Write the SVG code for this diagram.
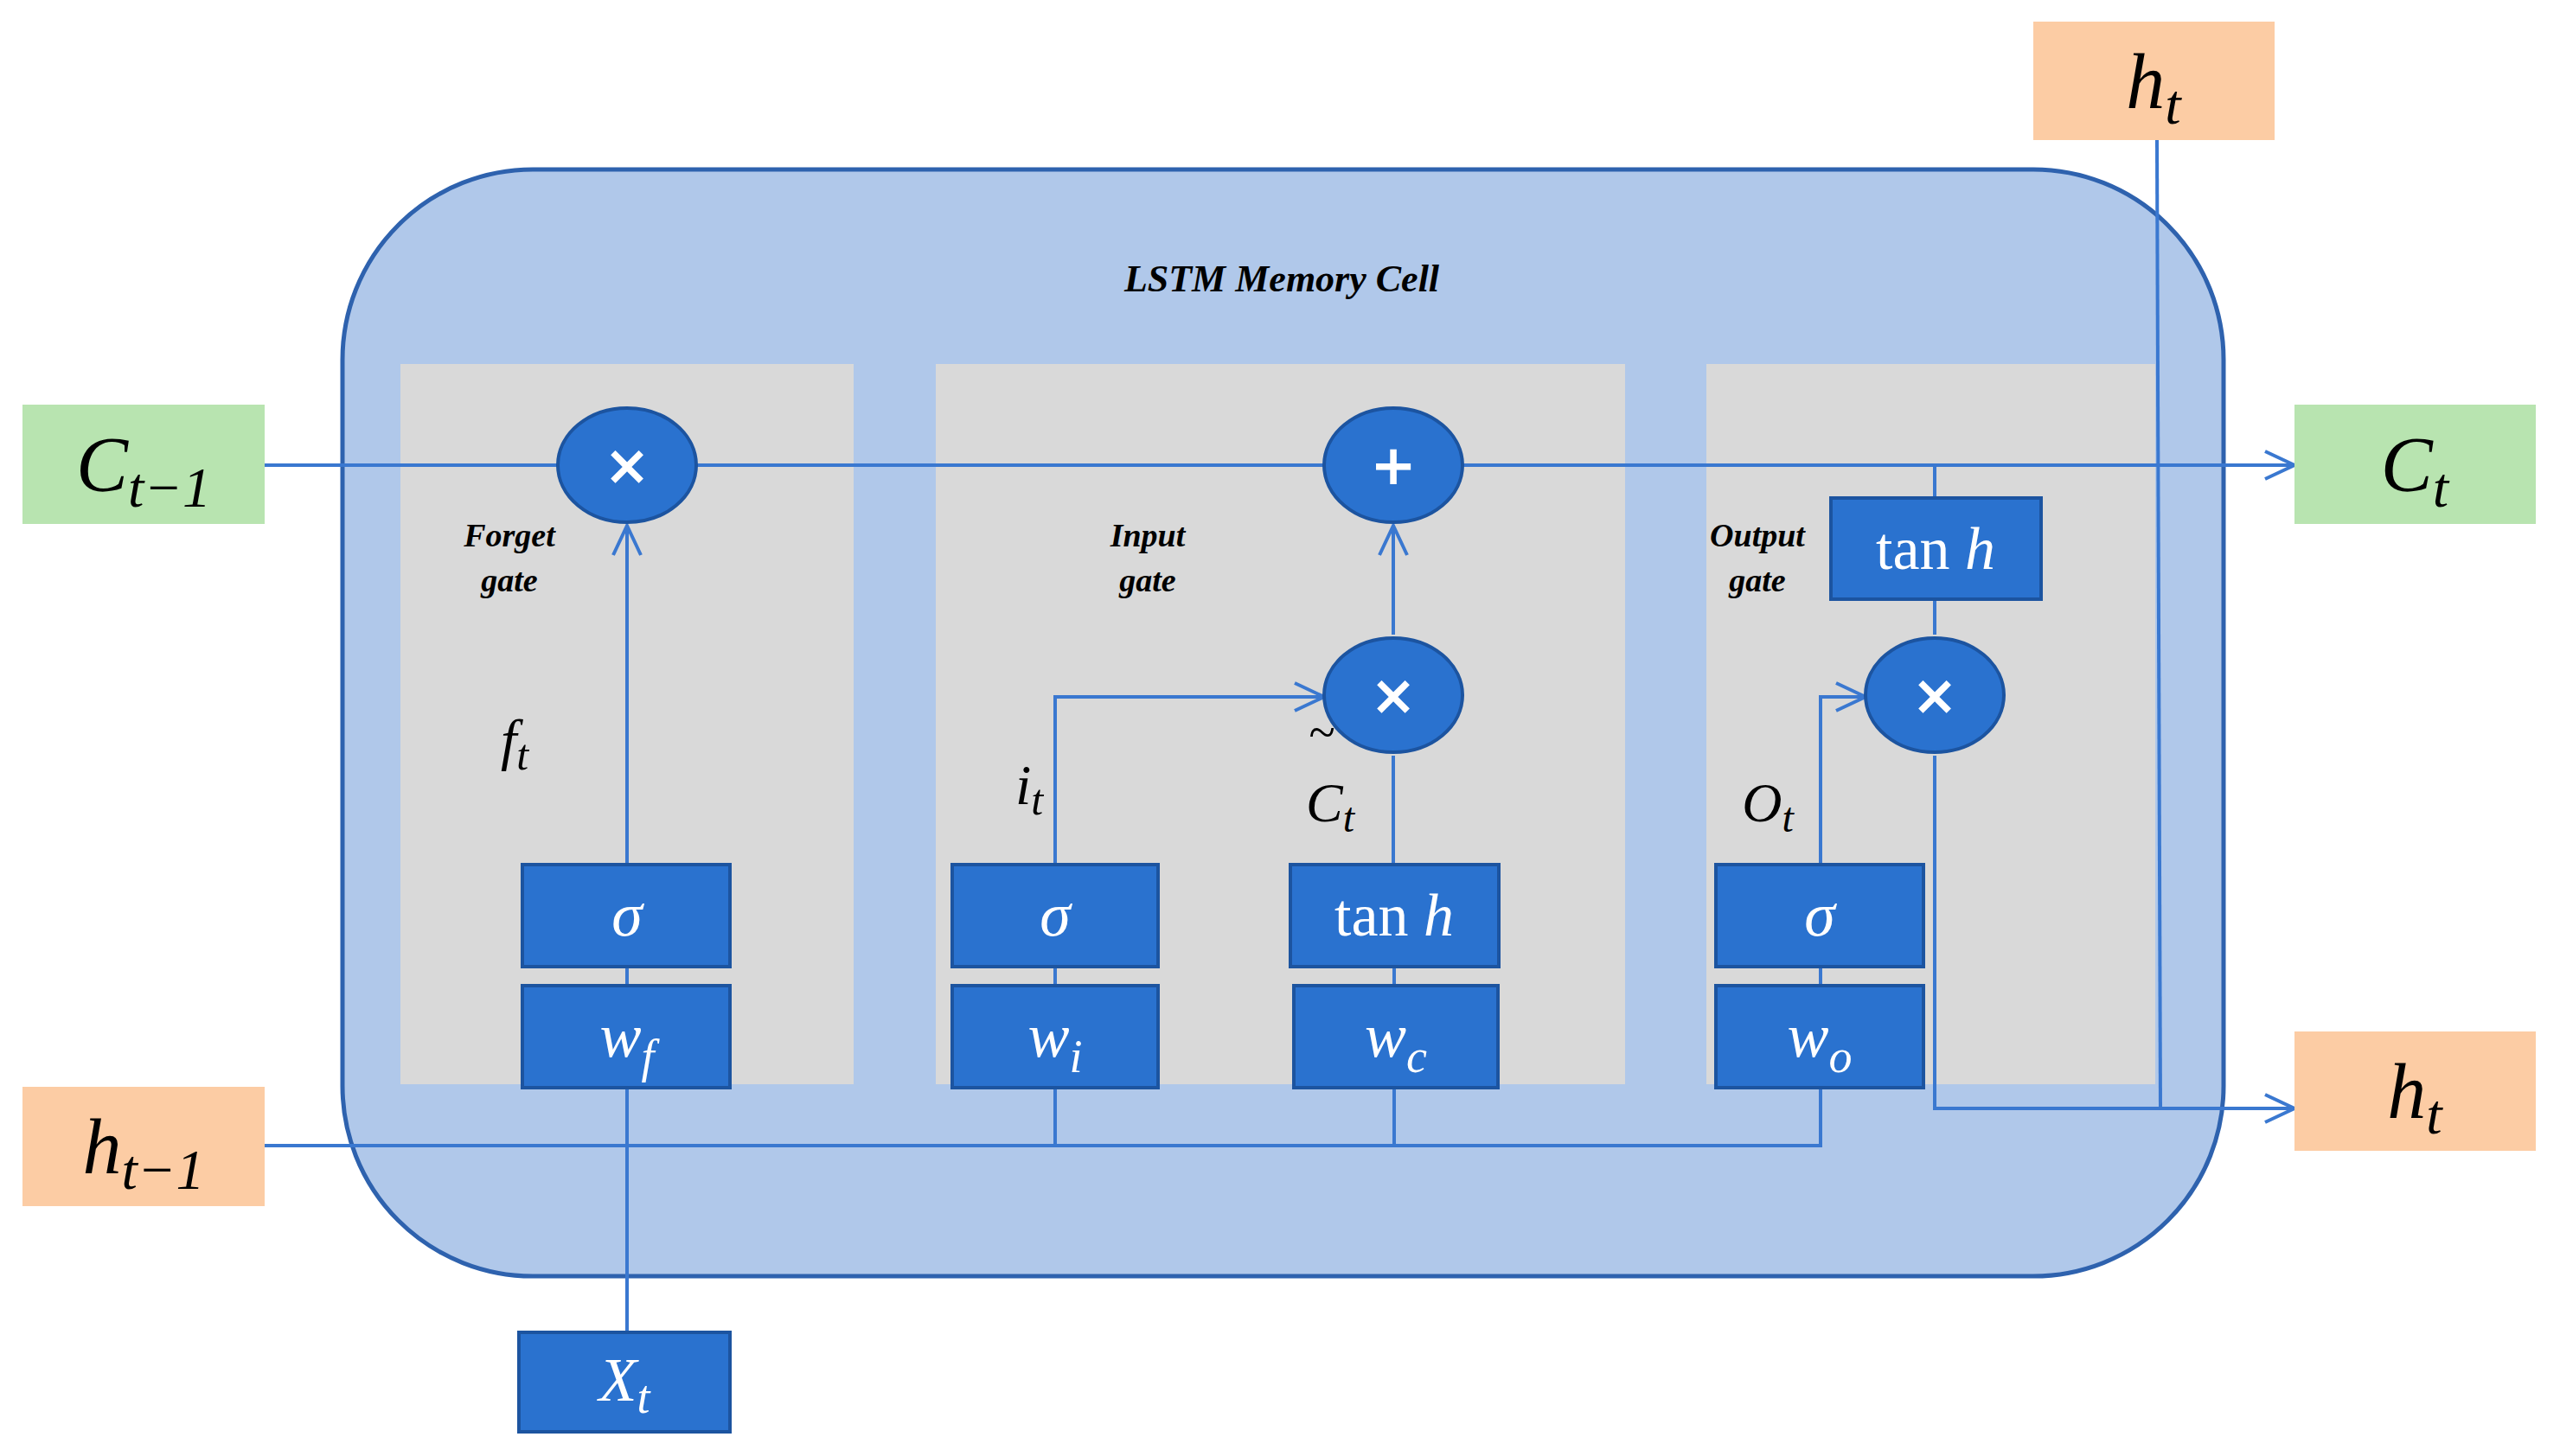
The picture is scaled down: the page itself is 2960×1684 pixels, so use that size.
<svg xmlns="http://www.w3.org/2000/svg" width="2960" height="1684" viewBox="0 0 2960 1684">
<defs>
<marker id="ar" viewBox="0 0 20 20" refX="18" refY="10" markerWidth="20" markerHeight="20" markerUnits="userSpaceOnUse" orient="auto"><path d="M2,2 L18,10 L2,18" fill="none" stroke="#3a78d0" stroke-width="4"/></marker>
<marker id="ar2" viewBox="0 0 40 40" refX="38" refY="20" markerWidth="40" markerHeight="40" markerUnits="userSpaceOnUse" orient="auto"><path d="M4,4 L38,20 L4,36" fill="none" stroke="#3a78d0" stroke-width="4"/></marker>
</defs>
<style>
.ln{fill:none;stroke:#3a78d0;stroke-width:4}
.bx{fill:#2a72cf;stroke:#1c54a0;stroke-width:4}
.el{fill:#2a72cf;stroke:#1c54a0;stroke-width:4}
.op{fill:#fff;font-family:"DejaVu Sans",sans-serif;font-weight:bold;font-size:64px;text-anchor:middle}
.wt{fill:#fff;font-family:"Liberation Serif",serif;font-style:italic;font-size:72px;text-anchor:middle}
.tn{fill:#fff;font-family:"Liberation Serif",serif;font-size:70px;text-anchor:middle}
.mt{fill:#000;font-family:"Liberation Serif",serif;font-style:italic;text-anchor:middle}
.gl{fill:#000;font-family:"Liberation Serif",serif;font-style:italic;font-weight:bold;font-size:38px;text-anchor:middle}
</style>
<g id="cell">
<rect x="396" y="196" width="2175" height="1280" rx="220" fill="#b0c8ea" stroke="#2e62ae" stroke-width="5"/>
<text x="1482" y="337" class="gl" font-size="44" style="font-size:44px">LSTM Memory Cell</text>
</g>
<g id="panels">
<rect x="463" y="421" width="524" height="833" fill="#d9d9d9"/>
<rect x="1082" y="421" width="797" height="833" fill="#d9d9d9"/>
<rect x="1973" y="421" width="519" height="833" fill="#d9d9d9"/>
</g>
<g id="connectors">
<path class="ln" d="M306,538 H645"/>
<path class="ln" d="M805,538 H1531"/>
<path class="ln" d="M1691,538 H2653" marker-end="url(#ar2)"/>
<path class="ln" d="M725,1000 V608" marker-end="url(#ar2)"/>
<path class="ln" d="M725,1118 V1140"/>
<path class="ln" d="M725,1258 V1541"/>
<path class="ln" d="M306,1325 H2105 V1258"/>
<path class="ln" d="M1220,1325 V1258"/>
<path class="ln" d="M1612,1325 V1258"/>
<path class="ln" d="M1220,1118 V1140 M1612,1118 V1140 M2105,1118 V1140"/>
<path class="ln" d="M1220,1000 V806 H1531" marker-end="url(#ar2)"/>
<path class="ln" d="M1611,1000 V874"/>
<path class="ln" d="M1611,734 V608" marker-end="url(#ar2)"/>
<path class="ln" d="M2105,1000 V806 H2157" marker-end="url(#ar2)"/>
<path class="ln" d="M2237,538 V576 M2237,693 V734"/>
<path class="ln" d="M2237,874 V1282 H2653" marker-end="url(#ar2)"/>
<path class="ln" d="M2494,162 L2498,1282"/>
</g>
<g id="inputs">
<rect x="26" y="468" width="280" height="138" fill="#b8e4b0"/>
<text x="166" y="568" class="mt" font-size="90">C<tspan font-size="66" dy="18">t−1</tspan></text>
<rect x="26" y="1257" width="280" height="138" fill="#fccca4"/>
<text x="166" y="1357" class="mt" font-size="90">h<tspan font-size="66" dy="18">t−1</tspan></text>
<rect x="2653" y="468" width="279" height="138" fill="#b8e4b0"/>
<text x="2792" y="568" class="mt" font-size="90">C<tspan font-size="66" dy="18">t</tspan></text>
<rect x="2653" y="1193" width="279" height="138" fill="#fccca4"/>
<text x="2792" y="1293" class="mt" font-size="90">h<tspan font-size="66" dy="18">t</tspan></text>
<rect x="2351" y="25" width="279" height="137" fill="#fccca4"/>
<text x="2490" y="125" class="mt" font-size="90">h<tspan font-size="66" dy="18">t</tspan></text>
</g>
<g id="forget">
<ellipse cx="725" cy="538" rx="80" ry="66" class="el"/>
<text x="725" y="560" class="op">×</text>
<rect x="604" y="1000" width="240" height="118" class="bx"/>
<text x="725" y="1082" class="wt">σ</text>
<rect x="604" y="1140" width="240" height="118" class="bx"/>
<text x="725" y="1222" class="wt">w<tspan font-size="54" dy="18">f</tspan></text>
<text x="589" y="632" class="gl">Forget</text>
<text x="589" y="684" class="gl">gate</text>
<text x="595" y="878" class="mt" font-size="66">f<tspan font-size="50" dy="12">t</tspan></text>
</g>
<g id="input">
<ellipse cx="1611" cy="538" rx="80" ry="66" class="el"/>
<text x="1611" y="560" class="op">+</text>
<ellipse cx="1611" cy="804" rx="80" ry="66" class="el"/>
<text x="1611" y="826" class="op">×</text>
<rect x="1101" y="1000" width="238" height="118" class="bx"/>
<text x="1220" y="1082" class="wt">σ</text>
<rect x="1101" y="1140" width="238" height="118" class="bx"/>
<text x="1220" y="1222" class="wt">w<tspan font-size="54" dy="18">i</tspan></text>
<rect x="1492" y="1000" width="241" height="118" class="bx"/>
<text x="1612" y="1082" class="tn">tan <tspan font-style="italic">h</tspan></text>
<rect x="1496" y="1140" width="236" height="118" class="bx"/>
<text x="1614" y="1222" class="wt">w<tspan font-size="54" dy="18">c</tspan></text>
<text x="1327" y="632" class="gl">Input</text>
<text x="1327" y="684" class="gl">gate</text>
<text x="1190" y="930" class="mt" font-size="66">i<tspan font-size="50" dy="12">t</tspan></text>
<text x="1528" y="866" class="mt" font-size="56">~</text>
<text x="1538" y="950" class="mt" font-size="64">C<tspan font-size="48" dy="12">t</tspan></text>
</g>
<g id="output">
<ellipse cx="2237" cy="804" rx="80" ry="66" class="el"/>
<text x="2237" y="826" class="op">×</text>
<rect x="2117" y="576" width="243" height="117" class="bx"/>
<text x="2238" y="658" class="tn">tan <tspan font-style="italic">h</tspan></text>
<rect x="1984" y="1000" width="240" height="118" class="bx"/>
<text x="2104" y="1082" class="wt">σ</text>
<rect x="1984" y="1140" width="240" height="118" class="bx"/>
<text x="2104" y="1222" class="wt">w<tspan font-size="54" dy="18">o</tspan></text>
<text x="2032" y="632" class="gl">Output</text>
<text x="2032" y="684" class="gl">gate</text>
<text x="2044" y="950" class="mt" font-size="64">O<tspan font-size="48" dy="12">t</tspan></text>
</g>
<g id="xt">
<rect x="600" y="1541" width="244" height="115" class="bx"/>
<text x="722" y="1620" class="wt">X<tspan font-size="54" dy="14">t</tspan></text>
</g>
</svg>
